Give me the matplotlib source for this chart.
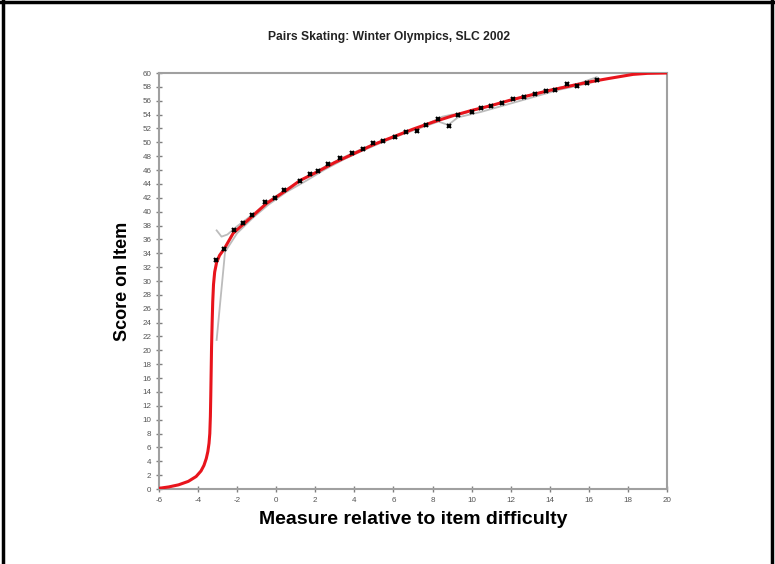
import matplotlib
matplotlib.use("Agg")
import matplotlib.pyplot as plt
from matplotlib.lines import Line2D
import numpy as np

plt.rcParams['font.family'] = ['Liberation Sans', 'DejaVu Sans']
plt.rcParams['axes.unicode_minus'] = False

# model curve (red)
model_x = [-6, -5.5, -5.0, -4.5, -4.1, -3.85, -3.7, -3.58, -3.5, -3.44, -3.4, -3.37, -3.35, -3.33,
           -3.31, -3.28, -3.25, -3.21, -3.15, -3.05, -2.9, -2.67, -2.2, -1.52, -0.49, 0.53, 1.22,
           2.0, 3.0, 4.0, 5.0, 6.0, 7.0, 8.0, 9.0, 10.0, 11.0, 12.0, 13.0, 14.0, 15.0, 16.0, 17.0,
           18.26, 19.0, 20.0]
model_y = [0.1, 0.3, 0.6, 1.1, 1.8, 2.6, 3.4, 4.4, 5.4, 6.6, 8.0, 10.5, 13.5, 17.0,
           20.5, 24.0, 27.0, 29.5, 31.3, 32.7, 33.7, 34.6, 36.9, 38.6, 41.2, 43.1, 44.5,
           45.6, 47.1, 48.4, 49.7, 50.8, 51.9, 52.9, 53.8, 54.6, 55.3, 56.1, 56.8, 57.5, 58.1,
           58.7, 59.2, 59.8, 59.95, 60.0]

# observed points (x markers)
obs_x = [-3.1, -2.67, -2.14, -1.69, -1.23, -0.55, -0.04, 0.41, 1.23, 1.73, 2.16, 2.67, 3.26,
         3.86, 4.46, 4.97, 5.48, 6.08, 6.64, 7.18, 7.69, 8.29, 8.84, 9.32, 10.0, 10.5, 11.0,
         11.58, 12.13, 12.68, 13.24, 13.8, 14.27, 14.86, 15.37, 15.88, 16.4]
obs_y = [33.0, 34.6, 37.4, 38.3, 39.5, 41.4, 42.0, 43.1, 44.4, 45.4, 45.9, 46.9, 47.7,
         48.4, 49.0, 49.9, 50.2, 50.8, 51.5, 51.6, 52.5, 53.3, 52.4, 54.0, 54.4, 55.0, 55.2,
         55.7, 56.2, 56.5, 57.0, 57.4, 57.5, 58.4, 58.1, 58.6, 59.0]

# empirical bands (grey)
upper_x = [-3.05, -2.8, -2.5, -2.0, -1.2, -0.4, 0.5, 1.5, 2.5, 3.5, 4.5, 5.5, 6.5, 7.5, 8.0,
           8.5, 9.0, 9.5, 10.5, 11.5, 12.5, 13.5, 14.5, 15.5, 16.4]
upper_y = [37.3, 36.4, 36.7, 37.9, 39.6, 41.5, 43.2, 44.9, 46.5, 47.9, 49.2, 50.3, 51.3, 52.3, 53.0,
           53.7, 54.0, 54.1, 54.9, 55.7, 56.5, 57.2, 57.9, 58.5, 59.4]
lower_x = [-3.05, -2.62, -2.0, -1.2, -0.4, 0.5, 1.5, 2.5, 3.5, 4.5, 5.5, 6.5, 7.5, 8.3, 8.8,
           9.3, 10.5, 11.5, 12.5, 13.5, 14.5, 15.5, 16.4]
lower_y = [21.5, 34.2, 36.9, 39.1, 41.0, 42.8, 44.4, 46.1, 47.6, 48.9, 50.1, 51.2, 52.2, 53.0, 52.5,
           53.6, 54.4, 55.2, 56.0, 56.8, 57.6, 58.2, 58.8]

fig = plt.figure(figsize=(7.75, 5.64), dpi=100)
ax = fig.add_axes([159 / 775, 75 / 564, 508 / 775, 416 / 564])

ax.plot(upper_x, upper_y, color="#bcbcbc", lw=1.3, zorder=2)
ax.plot(lower_x, lower_y, color="#bcbcbc", lw=1.3, zorder=2)
ax.plot(model_x, model_y, color="#e8141c", lw=2.2, zorder=3)
ax.plot(obs_x, obs_y, linestyle="none", marker="x", color="black", ms=3.5, mew=1.5, zorder=4)

ax.set_xlim(-6, 20)
ax.set_ylim(0, 60)
ax.set_xticks(np.arange(-6, 21, 2))
ax.set_yticks(np.arange(0, 61, 2))
for s in ax.spines.values():
    s.set_color("#a0a0a0")
    s.set_linewidth(1.5)
ax.tick_params(direction="inout", length=5, width=1, color="#808080", labelsize=5.8,
               labelcolor="#555555", pad=3)

ax.set_xlabel("Measure relative to item difficulty", fontsize=14, fontweight="bold", labelpad=5)
ax.set_ylabel("Score on Item", fontsize=13, fontweight="bold", labelpad=8)
fig.text(389 / 775, 1 - 37 / 564, "Pairs Skating: Winter Olympics, SLC 2002", ha="center", va="center",
         fontsize=8.7, fontweight="bold", color="#222222")

# outer frame
fig.add_artist(Line2D([3 / 775, 3 / 775], [0, 1], color="black", lw=2.5, transform=fig.transFigure))
fig.add_artist(Line2D([772 / 775, 772 / 775], [0, 1], color="black", lw=2.5, transform=fig.transFigure))
fig.add_artist(Line2D([0, 1], [1 - 2 / 564, 1 - 2 / 564], color="black", lw=2.5, transform=fig.transFigure))

fig.savefig("out.png", dpi=100)
